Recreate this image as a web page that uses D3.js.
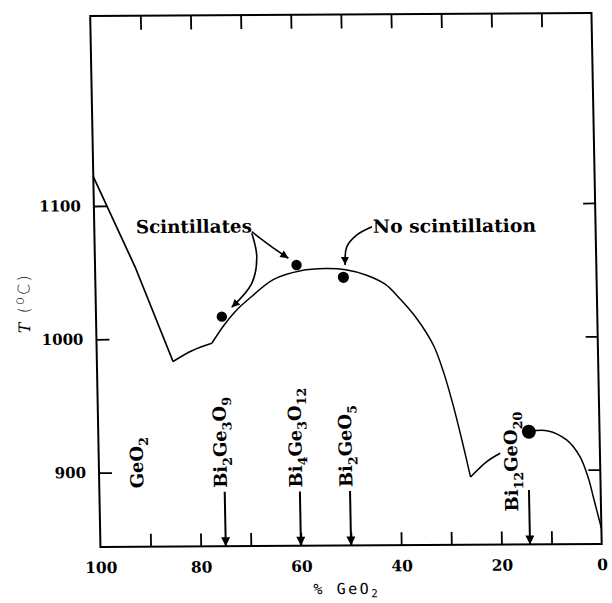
<!DOCTYPE html>
<html>
<head>
<meta charset="utf-8">
<script src="https://cdn.jsdelivr.net/npm/d3@7"></script>
<style>
  body { margin: 0; background: #fff; }
  svg { display: block; }
</style>
</head>
<body>
<svg id="chart" width="612" height="603"></svg>
<script>
// x: % GeO2 (100 at the left), y: T in deg C
const xTickLabels = [100, 80, 60, 40, 20, 0]
const xTicks = [90, 80, 70, 60, 50, 40, 30, 20, 10]
const yTickLabels = [900, 1000, 1100]

// liquidus (corners are eutectics)
const geo2Branch = [[100, 1122], [92, 1054], [84.8, 983]]
const eutecticRise = [[84.8, 983], [81, 991], [77, 996.5]]
const dome = [[77, 996.5], [74.5, 1010], [72, 1021], [69, 1031], [64.5, 1044], [59, 1050.5],
  [54, 1052], [50, 1051], [46, 1047], [42.2, 1040], [39.3, 1029], [36, 1014], [32.8, 994],
  [30.9, 974], [29.1, 949], [27.5, 923], [25.9, 895]]
const lowBranch = [[25.9, 895], [22.6, 906.5], [19.9, 912.7]]
const bi12Branch = [[14.1, 928.7], [10.5, 929.4], [6.6, 922.4], [4.0, 909.8], [2.4, 893.5],
  [1.5, 879.7], [0, 856]]

const scintDots = [[74.9, 1016.4], [59.8, 1054.8]]
const noScintDots = [[50.5, 1045.4]]
const bi12Dot = [[14.1, 928.7]]

const compounds = ['GeO2', 'Bi2Ge3O9', 'Bi4Ge3O12', 'Bi2GeO5', 'Bi12GeO20']
const compoundPct = [100, 75, 60, 50, 14.3]

// layout (data units)
const labelCenter = [92.5, 75.8, 60.8, 50.8, 17.8]
const labelBottom = [888, 888, 888, 888, 869]
const arrowTop = 885

const W = 501.25
const H = 531
const svg = d3.select('#chart')
svg.append('rect').attr('width', 612).attr('height', 603).attr('fill', '#fff')

// the scan is a little skewed, so the whole plot is too
const g = svg.append('g').attr('transform', 'matrix(1,-0.006,0.0193,1,90.2,16)')

const x = d3.scaleLinear().domain([100, 0]).range([0, W])
const y = d3.scaleLinear().domain([844.2, 1242.5]).range([H, 0])

const serif = '"DejaVu Serif", "Liberation Serif", serif'

const defs = svg.append('defs')
function marker (id, w, h) {
  defs.append('marker').attr('id', id)
    .attr('viewBox', '0 0 10 10').attr('refX', 10).attr('refY', 5)
    .attr('markerUnits', 'userSpaceOnUse')
    .attr('markerWidth', w).attr('markerHeight', h)
    .attr('orient', 'auto')
    .append('path').attr('d', 'M0,0L10,5L0,10Z').attr('fill', '#000')
}
marker('headBig', 11, 9)
marker('headSmall', 10, 8)

// frame
g.append('rect').attr('width', W).attr('height', H)
  .attr('fill', 'none').attr('stroke', '#000').attr('stroke-width', 2)

// inward ticks on all four sides
function ticksOnly (axis, tr) {
  const a = g.append('g').attr('transform', tr).call(axis)
  a.select('.domain').remove()
  a.selectAll('line').attr('stroke', '#000').attr('stroke-width', 1.8)
  return a
}
ticksOnly(d3.axisTop(x).tickValues(xTicks).tickSizeInner(-14).tickFormat(''), 'translate(0,0)')
ticksOnly(d3.axisBottom(x).tickValues(xTicks).tickSizeInner(-13).tickFormat(''), `translate(0,${H})`)
ticksOnly(d3.axisRight(y).tickValues(yTickLabels).tickSizeInner(-12).tickFormat(''), `translate(${W},0)`)

const yAxis = ticksOnly(d3.axisLeft(y).tickValues(yTickLabels).tickSizeInner(-13).tickPadding(13)
  .tickFormat(d3.format('d')), 'translate(0,0)')
yAxis.selectAll('text').attr('font-family', serif).attr('font-weight', 'bold')
  .attr('font-size', 15).attr('fill', '#000')

const xAxis = g.append('g').attr('transform', `translate(0,${H})`)
  .call(d3.axisBottom(x).tickValues(xTickLabels).tickSize(0).tickPadding(15))
xAxis.select('.domain').remove()
xAxis.selectAll('text').attr('font-family', serif).attr('font-weight', 'bold')
  .attr('font-size', 15.5).attr('fill', '#000')

// axis titles
const xTitle = g.append('text')
  .attr('x', x(51)).attr('y', H + 48.5)
  .attr('text-anchor', 'middle')
  .attr('font-family', '"DejaVu Sans Mono", monospace').attr('font-size', 15)
  .attr('letter-spacing', 2.5)
xTitle.append('tspan').text('% GeO')
xTitle.append('tspan').text('2').attr('dy', 3.5).attr('font-size', 11)

const yTitle = g.append('text')
  .attr('transform', `translate(-66,${y(1026.5)}) rotate(-90)`)
  .attr('text-anchor', 'middle')
  .attr('font-family', '"DejaVu Sans", sans-serif').attr('font-size', 16)
  .attr('font-weight', 300)
  .attr('textLength', 58).attr('lengthAdjust', 'spacing')
yTitle.append('tspan').text('T').attr('font-style', 'italic').attr('font-family', '"DejaVu Serif", serif')
yTitle.append('tspan').text(' (')
yTitle.append('tspan').text('o').attr('dy', -6).attr('font-size', 13)
yTitle.append('tspan').text('C)').attr('dy', 6)

// liquidus curves
const smooth = d3.line().x(d => x(d[0])).y(d => y(d[1])).curve(d3.curveCatmullRom.alpha(0.5))
const straight = d3.line().x(d => x(d[0])).y(d => y(d[1]))
g.append('path').attr('d', straight(geo2Branch))
  .attr('fill', 'none').attr('stroke', '#000').attr('stroke-width', 1.7)
const parts = [eutecticRise, dome, lowBranch, bi12Branch]
parts.forEach(p => {
  g.append('path').attr('d', smooth(p))
    .attr('fill', 'none').attr('stroke', '#000').attr('stroke-width', 1.5)
})

// crystal points
function dots (data, r) {
  g.selectAll(null).data(data).enter().append('circle')
    .attr('cx', d => x(d[0])).attr('cy', d => y(d[1])).attr('r', r).attr('fill', '#000')
}
dots(scintDots, 5.2)
dots(noScintDots, 5.6)
dots(bi12Dot, 7)

// compound labels with subscripts, written bottom to top
function formula (sel, str, fs) {
  let down = false
  str.split(/(\d+)/).filter(s => s).forEach(p => {
    const t = sel.append('tspan').text(p)
    if (/^\d+$/.test(p)) {
      t.attr('font-size', fs * 0.7)
      if (!down) { t.attr('dy', fs * 0.3); down = true }
    } else if (down) {
      t.attr('dy', -fs * 0.3); down = false
    }
  })
}
const labelSize = 18
compounds.forEach((c, i) => {
  const t = g.append('text')
    .attr('transform', `translate(${x(labelCenter[i]) + labelSize * 0.36},${y(labelBottom[i])}) rotate(-90)`)
    .attr('font-family', serif).attr('font-weight', 'bold').attr('font-size', labelSize)
  formula(t, c, labelSize)
  if (compoundPct[i] < 100) {
    g.append('line')
      .attr('x1', x(compoundPct[i])).attr('x2', x(compoundPct[i]))
      .attr('y1', y(arrowTop)).attr('y2', H)
      .attr('stroke', '#000').attr('stroke-width', 2)
      .attr('marker-end', 'url(#headBig)')
  }
})

// annotations
g.append('text').text('Scintillates')
  .attr('x', x(91.7)).attr('y', y(1079.4))
  .attr('font-family', serif).attr('font-weight', 'bold').attr('font-size', 18)
  .attr('textLength', 116).attr('lengthAdjust', 'spacingAndGlyphs')
g.append('text').text('No scintillation')
  .attr('x', x(44.4)).attr('y', y(1078.7))
  .attr('font-family', serif).attr('font-weight', 'bold').attr('font-size', 18)
  .attr('textLength', 163).attr('lengthAdjust', 'spacingAndGlyphs')

const pointers = [
  [[68.6, 1078.8], [67.7, 1061.2], [68.8, 1041.3], [72.9, 1023.4]],
  [[68.6, 1080], [65, 1069.5], [61.4, 1059.9]],
  [[44.6, 1083.2], [47.7, 1077], [49.7, 1068.3], [50.1, 1054.6]]
]
pointers.forEach(p => {
  g.append('path').attr('d', smooth(p))
    .attr('fill', 'none').attr('stroke', '#000').attr('stroke-width', 1.6)
    .attr('marker-end', 'url(#headSmall)')
})
</script>
</body>
</html>
